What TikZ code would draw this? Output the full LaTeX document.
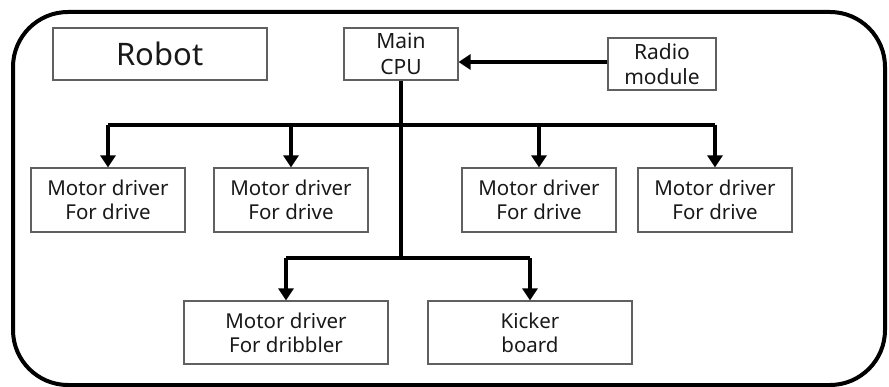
\documentclass[tikz,border=0pt]{standalone}
\usepackage{fontspec}
\setmainfont{Noto Sans}
\usetikzlibrary{arrows.meta}
\definecolor{boxgray}{HTML}{606060}
\begin{document}
\begin{tikzpicture}[x=1pt,y=-1pt,
  blk/.style={draw=boxgray,line width=1.2pt,rectangle,inner sep=0pt,align=center,
    font=\fontsize{20.5}{24}\selectfont,text=black!90},
  conn/.style={line width=4pt,-{Triangle[length=12pt,width=15pt]}},
  bus/.style={line width=4pt}]
\useasboundingbox (0,0) rectangle (889,387);
\draw[line width=4pt,rounded corners=55pt] (13,12) rectangle (885,385);
\node[blk,minimum width=214pt,minimum height=52pt,font=\fontsize{31}{34}\selectfont] (robot) at (160,54) {Robot};
\node[blk,minimum width=114pt,minimum height=52pt,font=\fontsize{21}{25.5}\selectfont] (cpu) at (401,54) {Main\\CPU};
\node[blk,minimum width=108pt,minimum height=52pt,font=\fontsize{21}{25.5}\selectfont] (radio) at (662,64) {Radio\\module};
\node[blk,minimum width=154pt,minimum height=64pt] (m1) at (108,200) {Motor driver\\For drive};
\node[blk,minimum width=154pt,minimum height=64pt] (m2) at (291,200) {Motor driver\\For drive};
\node[blk,minimum width=154pt,minimum height=64pt] (m3) at (539,200) {Motor driver\\For drive};
\node[blk,minimum width=154pt,minimum height=64pt] (m4) at (715,200) {Motor driver\\For drive};
\node[blk,minimum width=204pt,minimum height=63pt] (drib) at (286,332.5) {Motor driver\\For dribbler};
\node[blk,minimum width=204pt,minimum height=63pt] (kick) at (530,332.5) {Kicker\\board};
\coordinate (bt) at (401,125);
\coordinate (bb) at (401,258);
\draw[conn] (radio.west |- 0,62) -- (cpu.east |- 0,62);
\draw[bus] (cpu.south) -- (bb);
\draw[bus] (m1.north |- bt) -- (m4.north |- bt);
\draw[bus] (drib.north |- bb) -- (kick.north |- bb);
\foreach \m in {m1,m2,m3,m4}{\draw[conn] (\m.north |- bt) -- (\m.north);}
\foreach \m in {drib,kick}{\draw[conn] (\m.north |- bb) -- (\m.north);}
\end{tikzpicture}
\end{document}
